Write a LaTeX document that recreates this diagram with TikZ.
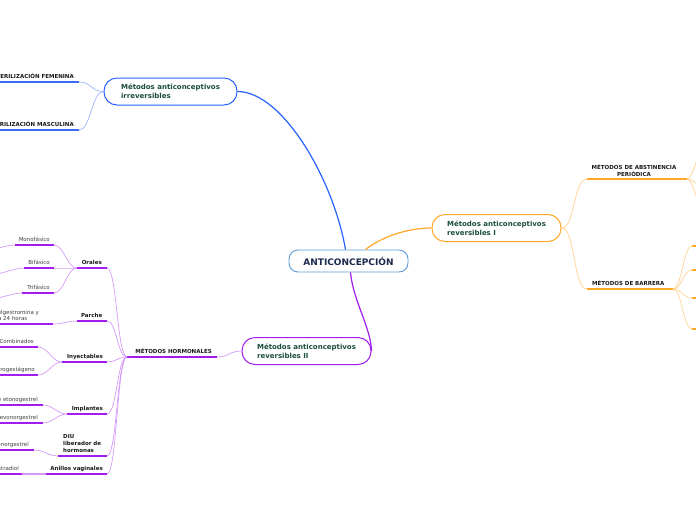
\documentclass[tikz,border=0pt]{standalone}
\usepackage{fontspec}
\setmainfont{DejaVu Sans}
\definecolor{bluemain}{HTML}{2962FF}
\definecolor{bluelight}{HTML}{9DB6F7}
\definecolor{blueul}{HTML}{3B6BF5}
\definecolor{orangemain}{HTML}{FFA726}
\definecolor{orangelight}{HTML}{FFD28F}
\definecolor{purplemain}{HTML}{A21CF0}
\definecolor{purplelight}{HTML}{D49AF7}
\definecolor{cenborder}{HTML}{5B9BD5}
\definecolor{topicgreen}{HTML}{1A4D3C}
\definecolor{cennavy}{HTML}{1C2A4E}
\tikzset{
  cenbox/.style={draw=cenborder, line width=0.9pt, rounded corners=9pt, minimum width=119pt, minimum height=22pt, fill=white, font=\bfseries\fontsize{9}{11}\selectfont, text=cennavy},
  topic/.style={line width=1pt, fill=white, rounded corners=13pt, minimum height=27pt, align=left, inner xsep=4pt, font=\bfseries\fontsize{7}{9}\selectfont, text=topicgreen},
  lbl/.style={font=\bfseries\fontsize{5.5}{7}\selectfont, inner sep=0pt, text=black!90},
  leaf/.style={font=\fontsize{5.5}{6.2}\selectfont, inner sep=0pt, text=black!75},
  uline/.style={line width=1.8pt},
  conn/.style={line width=0.7pt},
  mainconn/.style={line width=1.2pt},
}
\begin{document}
\begin{tikzpicture}[x=1pt,y=-1pt]
\useasboundingbox (0,0) rectangle (696,520);
% ---------- main nodes
\node[cenbox] (cen) at (348.5,261) {ANTICONCEPCIÓN};
\node[topic, draw=bluemain, minimum width=133pt] (irr) at (170.5,91.5) {Métodos anticonceptivos\\irreversibles};
\node[topic, draw=orangemain, minimum width=129pt] (revI) at (496.5,228) {Métodos anticonceptivos\\reversibles I};
\node[topic, draw=purplemain, minimum width=129pt] (revII) at (306.5,351) {Métodos anticonceptivos\\reversibles II};
% ---------- main connectors
\draw[mainconn, bluemain] (irr.east) .. controls +(45,0) and +(-12,-70) .. ([xshift=-3pt]cen.north);
\draw[mainconn, orangemain] ([xshift=17pt]cen.north) .. controls +(15,-12) and +(-25,0) .. (revI.west);
\draw[mainconn, purplemain] ([xshift=2pt]cen.south) .. controls +(3,30) and +(-1,-25) .. (revII.east);
% ---------- irreversibles
\coordinate (femL) at (-5,82); \coordinate (femR) at (79,82);
\coordinate (masL) at (-5,130); \coordinate (masR) at (79,130);
\node[lbl, anchor=base east] (fem) at (74,78.5) {ESTERILIZACIÓN FEMENINA};
\node[lbl, anchor=base east] (mas) at (74,126.5) {ESTERILIZACIÓN MASCULINA};
\draw[uline, blueul] (femL) -- (femR);
\draw[uline, blueul] (masL) -- (masR);
\draw[conn, bluelight] (irr.west) .. controls +(-12,0) and +(12,0) .. (femR);
\draw[conn, bluelight] (irr.west) .. controls +(-12,0) and +(12,0) .. (masR);
% ---------- reversibles I
\coordinate (absL) at (587,179); \coordinate (absR) at (687,179);
\coordinate (barL) at (587,289); \coordinate (barR) at (673,289);
\node[lbl, anchor=south, align=center, font=\bfseries\fontsize{5.5}{6.3}\selectfont] (abs) at (634,176.5) {MÉTODOS DE ABSTINENCIA\\PERIÓDICA};
\node[lbl, anchor=base west] (bar) at (592,285.5) {MÉTODOS DE BARRERA};
\draw[uline, orangemain] (absL) -- (absR);
\draw[uline, orangemain] (barL) -- (barR);
\draw[conn, orangelight] (revI.east) .. controls +(14,0) and +(-14,0) .. (absL);
\draw[conn, orangelight] (revI.east) .. controls +(14,0) and +(-14,0) .. (barL);
\coordinate (a1) at (703,136); \coordinate (a2) at (703,186); \coordinate (a3) at (703,222);
\draw[conn, orangelight] (absR) .. controls +(6,0) and +(-3,12) .. (a1);
\draw[conn, orangelight] (absR) .. controls +(6,0) and +(-6,0) .. (a2);
\draw[conn, orangelight] (absR) .. controls +(6,0) and +(-3,-12) .. (a3);
\foreach \i/\yy in {1/246,2/270,3/298,4/329}{
  \coordinate (b\i) at (692,\yy);
  \coordinate (b\i e) at (702,\yy);
  \draw[conn, orangelight] (barR) .. controls +(9,0) and +(-9,0) .. (b\i);
  \draw[uline, orangemain] (b\i) -- (b\i e);
}
% ---------- reversibles II
\coordinate (horL) at (127,357); \coordinate (horR) at (217,357);
\node[lbl, anchor=base east] (hor) at (212,353.5) {MÉTODOS HORMONALES};
\draw[uline, purplemain] (horL) -- (horR);
\draw[conn, purplelight] (revII.west) .. controls +(-12,0) and +(12,0) .. (horR);
% hormonal categories
\coordinate (orL) at (77,268);  \coordinate (orR) at (107,268);
\coordinate (paL) at (77,321);  \coordinate (paR) at (107,321);
\coordinate (inL) at (62,362);  \coordinate (inR) at (107,362);
\coordinate (imL) at (67,414);  \coordinate (imR) at (107,414);
\coordinate (diL) at (58,456);  \coordinate (diR) at (107,456);
\coordinate (anL) at (46,474);  \coordinate (anR) at (107,474);
\node[lbl, anchor=base east] (ora) at (102,264.5) {Orales};
\node[lbl, anchor=base east] (par) at (102.5,317.5) {Parche};
\node[lbl, anchor=base east] (iny) at (103,358.5) {Inyectables};
\node[lbl, anchor=base east] (imp) at (103,410.5) {Implantes};
\node[lbl, anchor=south west, align=left] (diu) at (63,453) {DIU\\liberador de\\hormonas};
\node[lbl, anchor=base east] (ani) at (103,470.5) {Anillos vaginales};
\foreach \c in {or,pa,in,im,di,an}{
  \draw[uline, purplemain] (\c L) -- (\c R);
  \draw[conn, purplelight] (horL) .. controls +(-10,0) and +(10,0) .. (\c R);
}
% leaves
\coordinate (moL) at (15,245); \coordinate (moR) at (54,245);
\coordinate (biL) at (24,268); \coordinate (biR) at (54,268);
\coordinate (trL) at (22,293); \coordinate (trR) at (54,293);
\coordinate (ptL) at (-5,324); \coordinate (ptR) at (53,324);
\coordinate (coL) at (-5,347); \coordinate (coR) at (38,347);
\coordinate (prL) at (-5,375); \coordinate (prR) at (38,375);
\coordinate (etL) at (-5,405); \coordinate (etR) at (43,405);
\coordinate (lvL) at (-5,423); \coordinate (lvR) at (43,423);
\coordinate (dlL) at (-5,450); \coordinate (dlR) at (34,450);
\coordinate (esL) at (-5,474); \coordinate (esR) at (22,474);
\node[leaf, anchor=base east] (mon) at (50,241.5) {Monofásico};
\node[leaf, anchor=base east] (bif) at (50,264.5) {Bifásico};
\node[leaf, anchor=base east] (tri) at (50,289.5) {Trifásico};
\node[leaf, anchor=south west, align=left] (pat) at (-12,320.5) {Norelgestromina y\\cada 24 horas};
\node[leaf, anchor=base east] (com) at (34,343.5) {Combinados};
\node[leaf, anchor=base east] (pro) at (35,371.5) {Solo progestágeno};
\node[leaf, anchor=base east] (eto) at (38,401.5) {Implante de etonogestrel};
\node[leaf, anchor=base east] (lev) at (38,419.5) {Implante de levonorgestrel};
\node[leaf, anchor=base east] (dlv) at (29,446.5) {Levonorgestrel};
\node[leaf, anchor=base east] (est) at (19,470.5) {Etinilestradiol};
\foreach \c in {mo,bi,tr,pt,co,pr,et,lv,dl,es}{
  \draw[uline, purplemain] (\c L) -- (\c R);
}
\draw[conn, purplelight] (orL) .. controls +(-10,0) and +(10,0) .. (moR);
\draw[conn, purplelight] (orL) .. controls +(-10,0) and +(10,0) .. (biR);
\draw[conn, purplelight] (orL) .. controls +(-10,0) and +(10,0) .. (trR);
\draw[conn, purplelight] (paL) .. controls +(-10,0) and +(10,0) .. (ptR);
\draw[conn, purplelight] (inL) .. controls +(-10,0) and +(10,0) .. (coR);
\draw[conn, purplelight] (inL) .. controls +(-10,0) and +(10,0) .. (prR);
\draw[conn, purplelight] (imL) .. controls +(-10,0) and +(10,0) .. (etR);
\draw[conn, purplelight] (imL) .. controls +(-10,0) and +(10,0) .. (lvR);
\draw[conn, purplelight] (diL) .. controls +(-10,0) and +(10,0) .. (dlR);
\draw[conn, purplelight, line width=1.2pt] (anL) -- (esR);
% off-canvas continuations of the oral leaves
\coordinate (moX) at (-14,250); \coordinate (biX) at (-14,276); \coordinate (trX) at (-14,300);
\draw[conn, purplelight] (moL) .. controls +(-8,0) and +(8,0) .. (moX);
\draw[conn, purplelight] (biL) .. controls +(-10,0) and +(10,0) .. (biX);
\draw[conn, purplelight] (trL) .. controls +(-10,0) and +(10,0) .. (trX);
\end{tikzpicture}
\end{document}
